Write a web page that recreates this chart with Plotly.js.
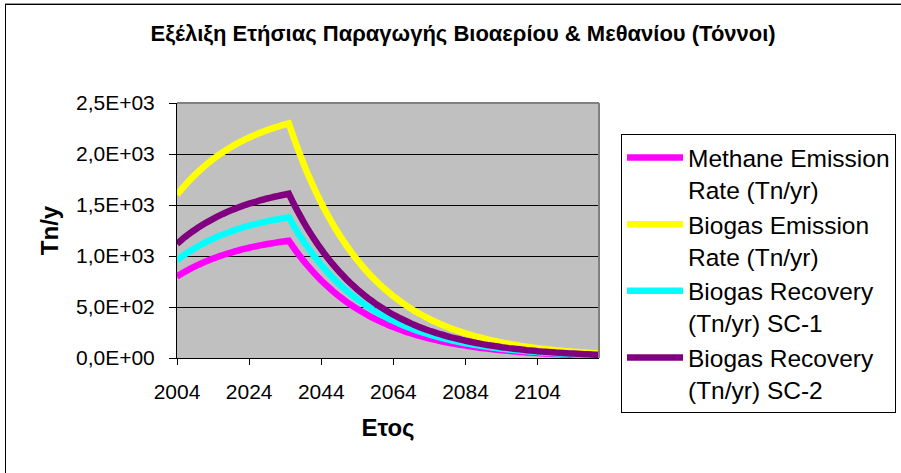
<!DOCTYPE html>
<html>
<head>
<meta charset="utf-8">
<script src="https://cdn.plot.ly/plotly-3.0.1.min.js"></script>
<style>
html,body{margin:0;padding:0;background:#fff;overflow:hidden;}
#wrap{position:relative;width:901px;height:473px;}
#chart{position:absolute;left:0;top:0;width:901px;height:473px;}
#frame{position:absolute;left:5px;top:4px;width:1000px;height:1000px;border-left:1px solid #000;border-top:1px solid #000;box-shadow:0 -1px 0 #9a9a9a;pointer-events:none;}
</style>
</head>
<body>
<div id="wrap"><div id="chart"></div><div id="frame"></div></div>
<script>
const years = [2004,2005,2006,2007,2008,2009,2010,2011,2012,2013,2014,2015,2016,2017,2018,2019,2020,2021,2022,2023,
2024,2025,2026,2027,2028,2029,2030,2031,2032,2033,2034,2035,2036,2037,2038,2039,2040,2041,2042,2043,
2044,2045,2046,2047,2048,2049,2050,2051,2052,2053,2054,2055,2056,2057,2058,2059,2060,2061,2062,2063,
2064,2065,2066,2067,2068,2069,2070,2071,2072,2073,2074,2075,2076,2077,2078,2079,2080,2081,2082,2083,
2084,2085,2086,2087,2088,2089,2090,2091,2092,2093,2094,2095,2096,2097,2098,2099,2100,2101,2102,2103,
2104,2105,2106,2107,2108,2109,2110,2111,2112,2113,2114,2115,2116,2117,2118,2119,2120,2121];

const methaneEmission = [800,822,843,862,881,898,915,931,947,961,975,988,1001,1012,1024,1034,1045,1054,1064,1073,1081,1089,1096,1104,1110,1117,1123,1129,1135,1140,1145,1150,
1099,1049,1002,957,914,873,834,796,760,726,
694,662,633,604,577,551,526,503,480,459,
438,418,399,381,364,348,332,317,303,290,
277,264,252,241,230,220,210,200,191,183,
175,167,159,152,145,139,133,127,121,116,
110,105,101,96,92,88,84,80,76,73,
70,67,64,61,58,55,53,51,48,46,
44,42,40,38,37,35,34,32,31,29,
28,27,26,24,23,22];

const biogasEmission = [1600,1643,1685,1724,1761,1796,1830,1862,1893,1922,1949,1976,2001,2024,2047,2068,2089,2108,2127,2145,2161,2177,2192,2207,2220,2234,2246,2258,2269,2280,2290,2300,
2197,2098,2004,1913,1827,1745,1667,1592,1520,1452,
1387,1324,1265,1208,1154,1102,1052,1005,960,917,
875,836,798,762,728,695,664,634,606,579,
553,528,504,481,460,439,419,400,382,365,
349,333,318,304,290,277,265,253,241,231,
220,210,201,192,183,175,167,160,152,146,
139,133,127,121,116,110,105,101,96,92,
88,84,80,76,73,70,67,64,61,58,
55,53,51,48,46,44];

const recoverySC1 = [960,986,1011,1034,1057,1078,1098,1117,1136,1153,1169,1186,1201,1214,1228,1241,1253,1265,1276,1287,1297,1306,1315,1324,1332,1340,1348,1355,1361,1368,1374,1380,
1318,1259,1202,1148,1096,1047,1000,955,912,871,
832,794,759,725,692,661,631,603,576,550,
525,502,479,457,437,417,398,380,364,347,
332,317,302,289,276,263,251,240,229,219,
209,200,191,182,174,166,159,152,145,139,
132,126,121,115,110,105,100,96,91,88,
83,80,76,73,70,66,63,61,58,55,
53,50,48,46,44,42,40,38,37,35,
33,32,31,29,28,26];

const recoverySC2 = [1120,1150,1180,1207,1233,1257,1281,1303,1325,1345,1364,1383,1401,1417,1433,1448,1462,1476,1489,1502,1513,1524,1534,1545,1554,1564,1572,1581,1588,1596,1603,1610,
1538,1469,1403,1339,1279,1222,1167,1114,1064,1016,
971,927,886,846,808,771,736,704,672,642,
613,585,559,533,510,487,465,444,424,405,
387,370,353,337,322,307,293,280,267,256,
244,233,223,213,203,194,186,177,169,162,
154,147,141,134,128,123,117,112,106,102,
97,93,89,85,81,77,74,71,67,64,
62,59,56,53,51,49,47,45,43,41,
39,37,36,34,32,31];

const seriesNames = ['Methane Emission<br>Rate (Tn/yr)','Biogas Emission<br>Rate (Tn/yr)','Biogas Recovery<br>(Tn/yr) SC-1','Biogas Recovery<br>(Tn/yr) SC-2'];
const seriesColors = ['#FF00FF','#FFFF00','#00FFFF','#800080'];
const seriesValues = [methaneEmission, biogasEmission, recoverySC1, recoverySC2];

const xTickVals = [2004,2024,2044,2064,2084,2104];
const xTickText = ['2004','2024','2044','2064','2084','2104'];
const yTickVals = [0,500,1000,1500,2000,2500];
const yTickText = ['0,0E+00','5,0E+02','1,0E+03','1,5E+03','2,0E+03','2,5E+03'];

const chartTitle = 'Εξέλιξη Ετήσιας Παραγωγής Βιοαερίου & Μεθανίου (Τόννοι)';
const xTitle = 'Ετος';
const yTitle = 'Tn/y';

const traces = seriesValues.map((vals, i) => ({
  type: 'scatter', mode: 'lines',
  x: years, y: vals,
  name: seriesNames[i],
  line: {color: seriesColors[i], width: 6.5, simplify: false},
  hoverinfo: 'x+y+name'
}));

const layout = {
  width: 901, height: 473,
  paper_bgcolor: '#ffffff', plot_bgcolor: '#C0C0C0',
  margin: {l: 177, r: 302, t: 103, b: 115, pad: 0, autoexpand: false},
  font: {family: '"Liberation Sans", Arial, sans-serif', color: '#000'},
  showlegend: true,
  title: {text: '<b>' + chartTitle + '</b>', font: {size: 22, color: '#000'},
          x: 0.514, xref: 'container', xanchor: 'center', y: 1 - 33/473, yref: 'container', yanchor: 'middle'},
  xaxis: {
    range: [2004, 2121], tickvals: xTickVals, ticktext: xTickText,
    ticks: 'outside', ticklen: 6, tickwidth: 1, tickcolor: '#000',
    showline: true, linecolor: '#000', linewidth: 1,
    showgrid: false, zeroline: false, fixedrange: true,
    tickfont: {size: 21, color: '#000'}, ticklabelstandoff: 9,
    title: {text: '<b>' + xTitle + '</b>\u00A0\u00A0\u00A0\u00A0\u00A0\u00A0', font: {size: 24, color: '#000'}, standoff: 16}
  },
  yaxis: {
    range: [0, 2500], tickvals: yTickVals, ticktext: yTickText,
    ticks: 'outside', ticklen: 7, tickwidth: 1, tickcolor: '#000',
    showline: true, linecolor: '#000', linewidth: 1,
    showgrid: true, gridcolor: '#000', gridwidth: 1, zeroline: false, fixedrange: true,
    tickfont: {size: 21, color: '#000'}, ticklabelstandoff: 10,
    title: {text: '<b>' + yTitle + '</b>', font: {size: 24, color: '#000'}, standoff: 10}
  },
  legend: {
    x: (621 - 177) / 422, xanchor: 'left', y: (358 - 134) / 255, yanchor: 'top',
    bgcolor: '#ffffff', bordercolor: '#000', borderwidth: 1,
    font: {size: 24.5, color: '#000'}, valign: 'top', itemwidth: 56, tracegroupgap: 0,
    maxheight: 460, entrywidth: 320, entrywidthmode: 'pixels'
  },
  shapes: [
    {type: 'line', xref: 'paper', yref: 'paper', x0: 0, x1: 1, y0: 1, y1: 1, line: {color: '#808080', width: 2}, layer: 'above'},
    {type: 'line', xref: 'paper', yref: 'paper', x0: 1, x1: 1, y0: 0, y1: 1, line: {color: '#808080', width: 2}, layer: 'above'}
  ]
};

Plotly.newPlot('chart', traces, layout, {displayModeBar: false, responsive: false});
</script>
</body>
</html>
